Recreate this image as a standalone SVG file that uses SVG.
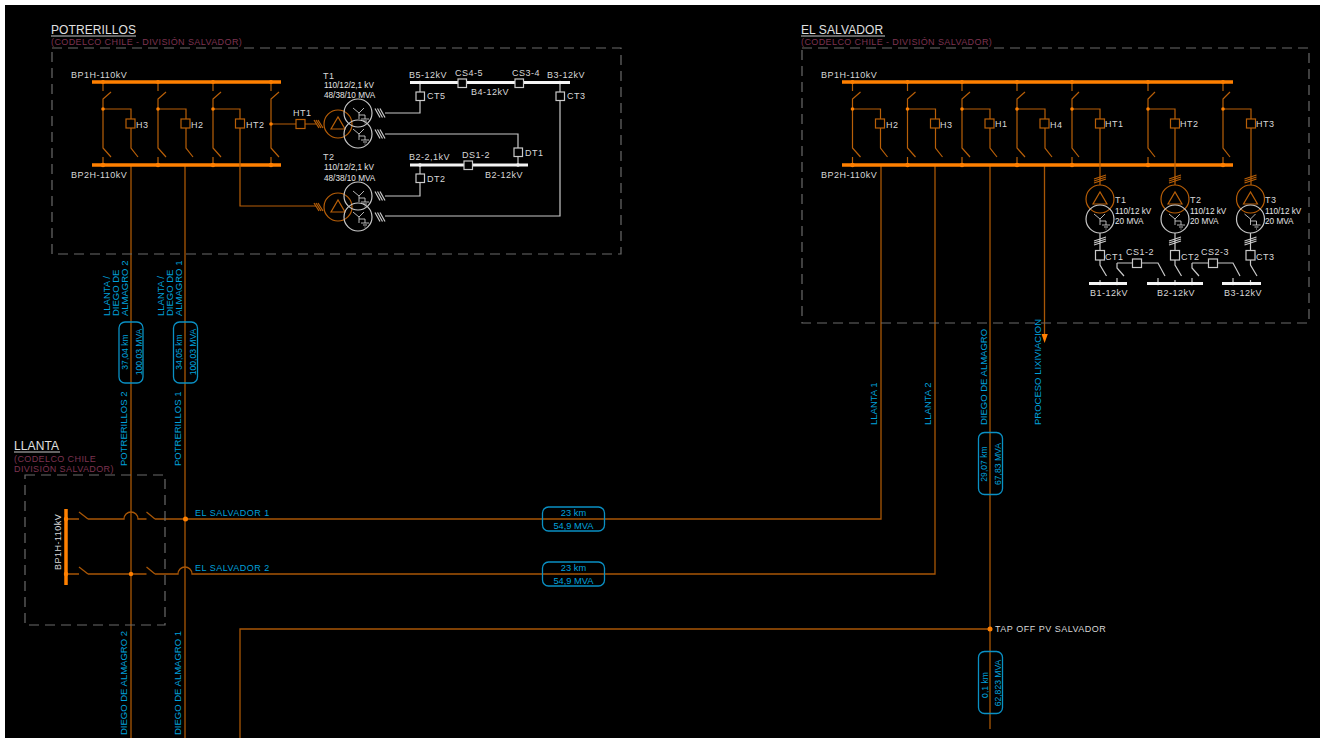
<svg xmlns="http://www.w3.org/2000/svg" width="1320" height="738" viewBox="0 0 1320 738">
<style>
text{font-family:"Liberation Sans",Arial,sans-serif;font-size:9px;letter-spacing:.5px}
.w{fill:#d8d8d8}.wb{fill:#e6e6e6;font-size:8.2px;letter-spacing:0}
.c{fill:#00a0dc;font-size:9.3px;letter-spacing:0}.cr{fill:#00a0dc;font-size:8.6px;letter-spacing:0}
.ce{fill:#00a0dc;font-size:9px;letter-spacing:.5px}
.cv{fill:#00a0dc;font-size:9.5px;letter-spacing:0}
.t{fill:#e0e0e0;font-size:12px;letter-spacing:.1px}
.s{fill:#7d3350;font-size:9px;letter-spacing:.4px}
.o{fill:none;stroke:#b85f08;stroke-width:1.2}
.ol{fill:none;stroke:#a85606;stroke-width:1.3}
.g{fill:none;stroke:#c8c8c8;stroke-width:1.2}
.g9{fill:none;stroke:#c8c8c8;stroke-width:.9}
.bus{fill:none;stroke:#ff8000;stroke-width:3.5}
.wbus{fill:none;stroke:#f4f4f4;stroke-width:3}
.dash{fill:none;stroke:#6a6a6a;stroke-width:1.2;stroke-dasharray:10 6}
.pill{fill:none;stroke:#0a90c4;stroke-width:1.3}
.ul{stroke:#c8c8c8;stroke-width:1}
.dot{fill:#ff8000}.wd{fill:#f4f4f4}
.box{fill:#000;stroke:#c8c8c8;stroke-width:1.2}
</style>
<defs>
<g id="bay">
<path class="o" d="M0 82V91M8 92L0 99V148L8 157M0 157V165"/>
<path class="o" d="M0 109H28V119M28 128V148L35 157"/>
<rect class="o" x="23" y="119" width="9" height="9"/>
<circle class="dot" cx="0" cy="82" r="2"/><circle class="dot" cx="0" cy="165" r="2.2"/><circle class="dot" cx="0" cy="109" r="1.8"/>
</g>
<g id="wind-o"><path class="o" d="M0 -4L5 4M2 -4L7 4M4 -4L9 4"/></g>
<g id="wind-w"><path class="g" d="M0 -4.500L5 4.500M2.500 -4.500L7.500 4.500M5 -4.500L10 4.500"/></g>
<g id="star"><path class="g9" d="M-6 -5L0 0L5 -5M0 0V6M0 2H6V6M2 6H10M4 8H8M5.500 10H6.500"/></g>
<g id="tf3">
<circle class="o" cx="0" cy="0" r="14"/><path class="o" d="M-7 5H7L0 -7Z"/>
<circle class="g" cx="20" cy="-11" r="14"/><circle class="g" cx="20" cy="10" r="14"/>
<use href="#star" x="21" y="-11"/><use href="#star" x="21" y="10"/>
</g>
<g id="tf2">
<path class="o" d="M-6 -16L6 -20M-6 -18L6 -22M-6 -20L6 -24"/>
<circle class="o" cx="0" cy="0" r="14"/><path class="o" d="M-7 5H7L0 -7Z"/>
<circle class="g" cx="0" cy="20" r="14"/><use href="#star" x="0" y="20"/>
<path class="g" d="M0 34V51M-6 42L6 38M-6 44L6 40M-6 46L6 42"/>
</g>
</defs>
<rect width="1320" height="738" fill="#fff"/>
<rect x="5" y="5" width="1315" height="733" fill="#000"/>

<g id="connectors">
<path class="ol" d="M131 165V738M185 165V738"/>
<path class="ol" d="M881 165V519H185"/>
<path class="ol" d="M935 165V574H192A7 7 0 0 0 178 574H155M146.500 574H88M79 574H66M79 567L88 574M146.500 567L155 574"/>
<path class="ol" d="M66 519H79M88 519H124A7 7 0 0 1 138 519H146.500M155 519H185M79 512L88 519M146.500 512L155 519"/>
<path class="ol" d="M990 165V729M1044.500 165V336"/>
<polygon points="1041.500,334 1047.800,334 1044.600,343" fill="#ff8000"/>
<path class="ol" d="M990 629H240V738"/>
</g>

<g id="potrerillos">
<rect class="dash" x="52" y="48" width="569" height="206"/>
<text x="51" y="34" class="t">POTRERILLOS</text><line class="ul" x1="51" y1="36" x2="136" y2="36"/>
<text x="51" y="45" class="s">(CODELCO CHILE - DIVISIÓN SALVADOR)</text>
<path class="bus" d="M92 82H281M92 165H281"/>
<use href="#bay" x="103"/><use href="#bay" x="158"/>
<g id="p-ht2"><path class="o" d="M213 82V91M221 92L213 99V148L221 157M213 157V165M213 109H240V119M240 128V206H316"/><rect class="o" x="235.500" y="119" width="9" height="9"/>
<circle class="dot" cx="213" cy="82" r="2"/><circle class="dot" cx="213" cy="165" r="2.2"/><circle class="dot" cx="213" cy="109" r="1.8"/></g>
<g id="p-ht1"><path class="o" d="M271 82V91M279 92L271 99V148L279 157M271 157V165M271 124H296M305 124H316"/><rect class="o" x="296" y="119.500" width="9" height="9"/>
<circle class="dot" cx="271" cy="82" r="2"/><circle class="dot" cx="271" cy="165" r="2.2"/><circle class="dot" cx="271" cy="124" r="1.8"/></g>
<use href="#wind-o" x="314" y="124"/><use href="#wind-o" x="314" y="207"/>
<use href="#tf3" x="338" y="124"/><use href="#tf3" x="338" y="207"/>
<use href="#wind-w" x="375" y="113"/><use href="#wind-w" x="375" y="134"/><use href="#wind-w" x="375" y="196"/><use href="#wind-w" x="375" y="217"/>
<path class="g" d="M385 113H420V100M420 92V82M385 134H518V148M518 156V165M385 196H420V182M420 174V165M385 216H560V100M560 92V82"/>
<path class="wbus" d="M410 82.500H570M410 165H528"/>
<rect class="box" x="416" y="92" width="8.500" height="8.500"/><rect class="box" x="556" y="92" width="8.500" height="8.500"/><rect class="box" x="458" y="79" width="8.500" height="8.500"/><rect class="box" x="515" y="79" width="8.500" height="8.500"/><rect class="box" x="514" y="148" width="8.500" height="8.500"/><rect class="box" x="464" y="161" width="8.500" height="8.500"/><rect class="box" x="416" y="174" width="8.500" height="8.500"/>
<g class="wd"><circle cx="420" cy="82.500" r="1.800"/><circle cx="560" cy="82.500" r="1.800"/><circle cx="420" cy="165" r="1.800"/><circle cx="518" cy="165" r="1.800"/></g>
<text x="71" y="78" class="w">BP1H-110kV</text><text x="71" y="178" class="w">BP2H-110kV</text>
<text x="136" y="128" class="w">H3</text><text x="191" y="128" class="w">H2</text><text x="246" y="128" class="w">HT2</text><text x="293" y="116" class="w">HT1</text>
<text x="323" y="79" class="w">T1</text><text x="324" y="88" class="wb">110/12/2,1 kV</text><text x="324" y="98" class="wb">48/38/10 MVA</text>
<text x="323" y="160" class="w">T2</text><text x="324" y="170" class="wb">110/12/2,1 kV</text><text x="324" y="181" class="wb">48/38/10 MVA</text>
<text x="409" y="78" class="w">B5-12kV</text><text x="455" y="76" class="w">CS4-5</text><text x="512" y="76" class="w">CS3-4</text><text x="547" y="78" class="w">B3-12kV</text><text x="471" y="95" class="w">B4-12kV</text>
<text x="427" y="99" class="w">CT5</text><text x="567" y="99" class="w">CT3</text><text x="525" y="156" class="w">DT1</text><text x="409" y="160" class="w">B2-2,1kV</text><text x="462" y="158" class="w">DS1-2</text><text x="485" y="178" class="w">B2-12kV</text><text x="427" y="182" class="w">DT2</text>
</g>

<g id="el-salvador">
<rect class="dash" x="802" y="48" width="507" height="275"/>
<text x="801" y="34" class="t">EL SALVADOR</text><line class="ul" x1="801" y1="36" x2="885" y2="36"/>
<text x="801" y="45" class="s">(CODELCO CHILE - DIVISIÓN SALVADOR)</text>
<path class="bus" d="M842 82H1233M842 165H1233"/>
<use href="#bay" x="852.500"/><use href="#bay" x="907.500"/><use href="#bay" x="962"/><use href="#bay" x="1017"/>
<g id="s-ht1"><path class="o" d="M1072 82V91M1079 92L1072 99V148L1079 157M1072 157V165M1072 109H1100V119M1100 128V185"/><rect class="o" x="1095.500" y="119" width="9" height="9"/><circle class="dot" cx="1072" cy="82" r="2"/><circle class="dot" cx="1072" cy="165" r="2.200"/><circle class="dot" cx="1072" cy="109" r="1.800"/></g>
<g id="s-ht2"><path class="o" d="M1148 82V91M1155 92L1148 99V148L1155 157M1148 157V165M1148 109H1175V119M1175 128V185"/><rect class="o" x="1170.500" y="119" width="9" height="9"/><circle class="dot" cx="1148" cy="82" r="2"/><circle class="dot" cx="1148" cy="165" r="2.200"/><circle class="dot" cx="1148" cy="109" r="1.800"/></g>
<g id="s-ht3"><path class="o" d="M1223 82V91M1230 92L1223 99V148L1230 157M1223 157V165M1223 109H1251V119M1251 128V185"/><rect class="o" x="1246.500" y="119" width="9" height="9"/><circle class="dot" cx="1223" cy="82" r="2"/><circle class="dot" cx="1223" cy="165" r="2.200"/><circle class="dot" cx="1223" cy="109" r="1.800"/></g>
<use href="#tf2" x="1100" y="199"/><use href="#tf2" x="1175" y="199"/><use href="#tf2" x="1250.500" y="199"/>
<path class="g" d="M1100 260V265L1106.500 276M1100 280V283M1175 260V265L1181.500 276M1175 280V283M1250.500 260V265L1257 276M1250.500 280V283"/>
<path class="g" d="M1117 283V278M1117 263V268L1124 276M1117 263H1132.500M1141.500 263H1158L1165 276M1158 278V283"/>
<path class="g" d="M1192 283V278M1192 263V268L1199 276M1192 263H1208.500M1217.500 263H1233L1240 276M1233 278V283"/>
<path class="wbus" d="M1089 283.500H1127M1147 283.500H1203M1222 283.500H1261"/>
<rect class="box" x="1095.500" y="250.500" width="9" height="9.500"/><rect class="box" x="1170.500" y="250.500" width="9" height="9.500"/><rect class="box" x="1246" y="250.500" width="9" height="9.500"/><rect class="box" x="1132.500" y="259" width="9" height="8.500"/><rect class="box" x="1208.500" y="259" width="9" height="8.500"/>
<g class="wd"><circle cx="1100" cy="283.500" r="1.800"/><circle cx="1117" cy="283.500" r="1.800"/><circle cx="1158" cy="283.500" r="1.800"/><circle cx="1175" cy="283.500" r="1.800"/><circle cx="1192" cy="283.500" r="1.800"/><circle cx="1233" cy="283.500" r="1.800"/><circle cx="1250.500" cy="283.500" r="1.800"/></g>
<text x="821" y="78" class="w">BP1H-110kV</text><text x="821" y="178" class="w">BP2H-110kV</text>
<text x="886" y="128" class="w">H2</text><text x="940" y="128" class="w">H3</text><text x="995" y="127" class="w">H1</text><text x="1050" y="128" class="w">H4</text>
<text x="1105" y="127" class="w">HT1</text><text x="1180" y="127" class="w">HT2</text><text x="1256" y="127" class="w">HT3</text>
<text x="1115" y="203" class="w">T1</text><text x="1115" y="214" class="wb">110/12 kV</text><text x="1115" y="224" class="wb">20 MVA</text>
<text x="1190" y="203" class="w">T2</text><text x="1190" y="214" class="wb">110/12 kV</text><text x="1190" y="224" class="wb">20 MVA</text>
<text x="1265" y="203" class="w">T3</text><text x="1265" y="214" class="wb">110/12 kV</text><text x="1265" y="224" class="wb">20 MVA</text>
<text x="1105" y="260" class="w">CT1</text><text x="1181" y="260" class="w">CT2</text><text x="1256" y="260" class="w">CT3</text>
<text x="1126" y="255" class="w">CS1-2</text><text x="1201" y="255" class="w">CS2-3</text>
<text x="1090" y="296" class="w">B1-12kV</text><text x="1157" y="296" class="w">B2-12kV</text><text x="1224" y="296" class="w">B3-12kV</text>
</g>

<g id="llanta">
<rect class="dash" x="25" y="475" width="140" height="150"/>
<text x="14" y="450" class="t">LLANTA</text><line class="ul" x1="14" y1="452" x2="60" y2="452"/>
<text x="14" y="462" class="s">(CODELCO CHILE</text><text x="14" y="472" class="s">DIVISIÓN SALVADOR)</text>
<path class="bus" d="M66 509V585"/>
<circle class="dot" cx="66" cy="519" r="2.200"/><circle class="dot" cx="66" cy="574" r="2.200"/><circle class="dot" cx="131" cy="574" r="2.200"/><circle class="dot" cx="185.500" cy="519" r="2.500"/>
<text transform="translate(60.500 570) rotate(-90)" class="w">BP1H-110kV</text>
</g>

<g id="tap-off">
<circle class="dot" cx="990" cy="629" r="2.500"/>
<text x="995" y="632" class="w">TAP OFF PV SALVADOR</text>
</g>

<g id="line-labels">
<text x="195" y="516" class="ce">EL SALVADOR 1</text><text x="195" y="571" class="ce">EL SALVADOR 2</text>
<text transform="translate(127 466) rotate(-90)" class="cv">POTRERILLOS 2</text>
<text transform="translate(181 466) rotate(-90)" class="cv">POTRERILLOS 1</text>
<text transform="translate(109.500 316) rotate(-90)" class="cv">LLANTA /</text><text transform="translate(118.500 316) rotate(-90)" class="cv">DIEGO DE</text><text transform="translate(127.500 316) rotate(-90)" class="cv">ALMAGRO 2</text>
<text transform="translate(164 316) rotate(-90)" class="cv">LLANTA /</text><text transform="translate(173 316) rotate(-90)" class="cv">DIEGO DE</text><text transform="translate(181.500 316) rotate(-90)" class="cv">ALMAGRO 1</text>
<text transform="translate(127 735) rotate(-90)" class="cv">DIEGO DE ALMAGRO 2</text>
<text transform="translate(181 735) rotate(-90)" class="cv">DIEGO DE ALMAGRO 1</text>
<text transform="translate(877 425) rotate(-90)" class="cv">LLANTA 1</text>
<text transform="translate(931 425) rotate(-90)" class="cv">LLANTA 2</text>
<text transform="translate(987 425) rotate(-90)" class="cv">DIEGO DE ALMAGRO</text>
<text transform="translate(1041 425) rotate(-90)" class="cv">PROCESO LIXIVIACION</text>
</g>

<g id="pill-p2"><rect class="pill" x="119" y="322" width="24" height="61" rx="6"/><text transform="translate(127.500 352) rotate(-90)" text-anchor="middle" class="cr">37,04 km</text><text transform="translate(141.500 352) rotate(-90)" text-anchor="middle" class="cr">100,03 MVA</text></g>
<g id="pill-p1"><rect class="pill" x="173.500" y="322" width="24" height="61" rx="6"/><text transform="translate(182 352) rotate(-90)" text-anchor="middle" class="cr">34,05 km</text><text transform="translate(196 352) rotate(-90)" text-anchor="middle" class="cr">100,03 MVA</text></g>
<g id="pill-s1"><rect class="pill" x="542.500" y="507" width="62" height="24" rx="6"/><text x="573.500" y="516" text-anchor="middle" class="c">23 km</text><text x="573.500" y="529" text-anchor="middle" class="c">54,9 MVA</text></g>
<g id="pill-s2"><rect class="pill" x="542.500" y="562" width="62" height="24" rx="6"/><text x="573.500" y="571" text-anchor="middle" class="c">23 km</text><text x="573.500" y="584" text-anchor="middle" class="c">54,9 MVA</text></g>
<g id="pill-d"><rect class="pill" x="978.500" y="432.500" width="24" height="62" rx="6"/><text transform="translate(987 464) rotate(-90)" text-anchor="middle" class="cr">29,07 km</text><text transform="translate(1000.500 464) rotate(-90)" text-anchor="middle" class="cr">67,83 MVA</text></g>
<g id="pill-t"><rect class="pill" x="978.500" y="651.500" width="24" height="62" rx="6"/><text transform="translate(987.500 685) rotate(-90)" text-anchor="middle" class="cr">0,1 km</text><text transform="translate(1000.500 683) rotate(-90)" text-anchor="middle" class="cr">62,823 MVA</text></g>
</svg>
